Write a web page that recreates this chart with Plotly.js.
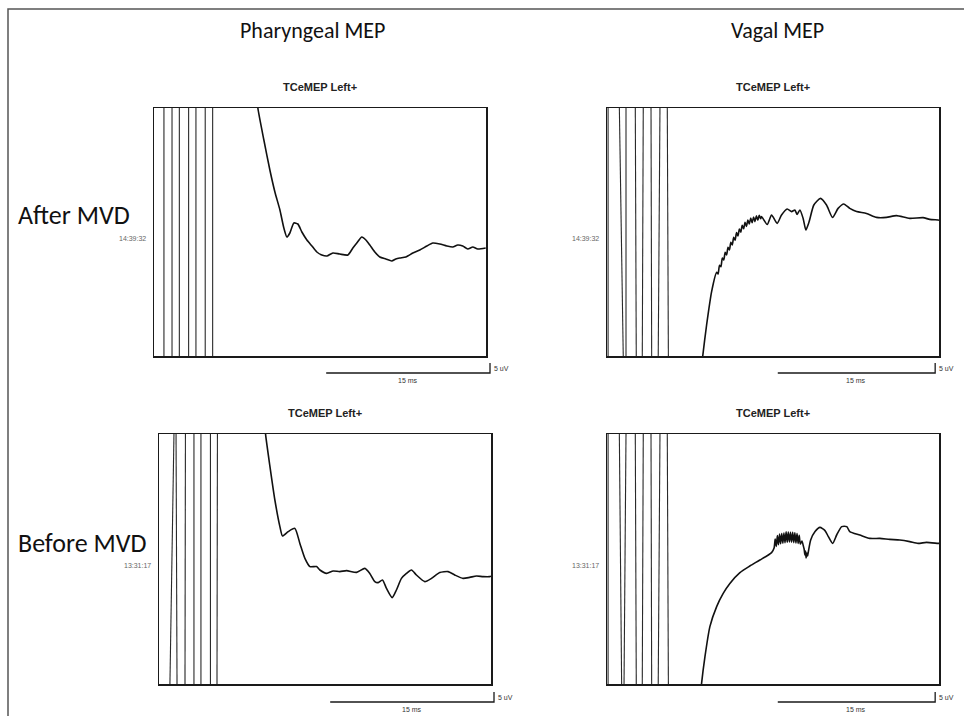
<!DOCTYPE html>
<html><head><meta charset="utf-8">
<script src="https://cdn.plot.ly/plotly-3.0.1.min.js"></script>
<style>html,body{margin:0;padding:0;background:#fff;}#chart{width:964px;height:716px;}</style>
</head><body><div id="chart"></div>
<script>
// ---------- labels ----------
const columnTitles = ["Pharyngeal MEP", "Vagal MEP"];
const rowTitles = ["After MVD", "Before MVD"];
const panelTitle = "TCeMEP Left+";
const stampAfter = "14:39:32";
const stampBefore = "13:31:17";
const scaleMs = 15;      // horizontal calibration bar, ms
const scaleUv = 5;       // vertical calibration bar, uV
const scaleMsLabel = "15 ms";
const scaleUvLabel = "5 uV";
const railUv = 62.5;     // saturated stimulus artifact amplitude (off-scale)

// ---------- Pharyngeal MEP, after MVD ----------
const pharAfterT = [9.40,9.51,10.06,10.61,11.07,11.53,11.89,12.17,12.44,12.81,13.17,13.54,14.00,14.46,14.91,15.37,15.83,16.38,17.00,17.75,18.21,18.57,19.03,19.40,19.76,20.22,20.68,21.23,21.77,22.14,22.51,23.06,23.70,24.34,24.98,25.53,26.17,26.81,27.36,27.81,28.27,28.73,29.19,29.64,30.37];
const pharAfterV = [70,62,46,31,20,11,2,-2.5,-0.5,4.5,4,0,-4,-7,-10,-11.5,-12,-10.5,-11,-11.5,-8,-5.5,-2.5,-4,-6.5,-10,-12.5,-13.5,-14.5,-13.5,-13,-12.5,-10.5,-9,-7,-5.5,-6,-7,-7.5,-6.5,-7,-8.5,-7.5,-8.5,-8];
const pharAfterArtTop = [0.91,1.65,2.32,3.17,3.84,4.69,5.37];
const pharAfterArtBot = [0.91,1.65,2.32,3.17,3.84,4.69,5.37];

// ---------- Vagal MEP, after MVD ----------
const vagAfterT = [8.70,8.76,9.12,9.58,10.04,10.17,10.30,10.43,10.56,10.69,10.82,10.95,11.08,11.21,11.34,11.47,11.60,11.73,11.86,11.99,12.12,12.25,12.38,12.51,12.64,12.77,12.90,13.03,13.16,13.29,13.42,13.55,13.68,13.81,13.94,14.07,14.15,14.67,15.07,15.58,15.98,16.50,16.90,17.20,17.41,17.66,17.96,18.21,18.51,18.94,19.55,20.10,20.65,21.16,21.68,22.23,22.85,23.76,24.68,25.59,26.50,27.72,28.94,29.55,30.31,30.40];
const vagAfterV = [-66,-62.3,-46.5,-29.8,-20.2,-21.0,-16.6,-17.4,-13.0,-14.0,-10.2,-11.5,-7.7,-9.0,-5.2,-6.5,-2.7,-4.1,-0.3,-2.0,1.5,-0.1,3.4,1.6,4.8,2.8,6.0,4.0,7.0,4.6,7.5,5.2,8.1,5.9,8.4,6.6,7.7,3.8,8.5,4.3,8.5,11.5,10.2,11.0,8.8,11.0,6.8,1.0,5.2,13.5,16.8,13.5,7.3,11.8,14.0,11.8,10.2,9.3,7.3,7.3,8.2,6.8,7.2,6.3,6.0,5.9];
const vagAfterArtTop = [0.10,1.13,1.74,2.59,3.32,4.03,4.85,5.52];
const vagAfterArtBot = [0.10,1.49,1.74,2.68,3.23,4.09,4.69,5.62];

// ---------- Pharyngeal MEP, before MVD ----------
const pharBeforeT = [9.70,9.76,10.16,10.61,11.07,11.31,11.83,12.44,12.90,13.36,13.82,14.43,14.73,15.34,15.95,16.56,17.17,18.09,18.85,19.30,19.76,20.07,20.46,20.83,21.35,21.74,22.20,22.66,23.12,23.57,24.34,24.95,25.71,26.47,27.08,27.84,28.45,29.07,29.67,30.28,30.40];
const pharBeforeV = [68,62.3,46.2,29.5,16.2,11.5,13.7,15.3,7.8,0.3,-3.8,-3.8,-5.5,-7.2,-6,-6.3,-5.8,-6.7,-4.7,-7.2,-11.3,-11.8,-10.5,-14.7,-19.3,-15.5,-9.7,-7.2,-5.5,-8,-11.3,-9.7,-6.8,-6.3,-8,-9.7,-9.2,-8.5,-8.8,-8.8,-8.6];
const pharBeforeArtTop = [1.37,1.56,2.42,3.20,3.84,4.71,5.35];
const pharBeforeArtBot = [1.00,1.65,2.38,3.20,3.84,4.71,5.31];

// ---------- Vagal MEP, before MVD ----------
const vagBeforeT = [8.60,8.66,8.97,9.42,10.04,10.64,11.25,12.17,13.08,14.00,15.07,15.30,15.40,15.50,15.60,15.70,15.80,15.90,16.00,16.10,16.20,16.30,16.40,16.50,16.60,16.70,16.80,16.90,17.00,17.10,17.20,17.30,17.40,17.50,17.60,17.70,17.85,17.98,18.05,18.12,18.18,18.23,18.30,18.37,18.44,18.65,19.05,19.50,19.96,20.27,20.66,21.03,21.49,21.95,22.23,23.15,24.06,24.98,25.89,26.81,27.72,28.48,29.25,30.31,30.40];
const vagBeforeV = [-66,-62.2,-48.8,-33.8,-23.8,-17.2,-12.2,-6.8,-3.5,-0.5,3.2,5.5,10,6.3,11.7,7.1,12.5,7.6,12.7,7.9,13.0,8.1,13.6,8.4,13.5,8.5,13.4,8.4,13.3,8.2,13.1,8.0,12.7,7.8,11.8,7.5,9.0,6.5,5.0,2.0,4.0,0.5,3.0,1.5,3.7,9.5,13.7,15.8,14.2,11.2,7.8,12.0,16.2,16.2,13.7,12.0,10.3,10.3,9.8,9.5,8.7,7.8,8.3,7.8,7.8];
const vagBeforeArtTop = [0.10,1.13,1.74,2.59,3.32,4.03,4.85,5.52];
const vagBeforeArtBot = [0.10,1.34,1.56,2.68,3.23,4.09,4.69,5.62];

// ---------- layout geometry (pixels) ----------
const W = 964, H = 716;
const px = x => x / W, py = y => 1 - y / H;
const timeSpan = 30.4;          // ms across a panel
const boxW = 332;
const pxPerMs = boxW / timeSpan;
const pxPerUv = 2;

const panels = [
  {left:154, top:108, bottom:356, barEnd:490, barY:373, t:pharAfterT, v:pharAfterV, aT:pharAfterArtTop, aB:pharAfterArtBot, stamp:stampAfter},
  {left:607, top:108, bottom:356, barEnd:943, barY:373, t:vagAfterT, v:vagAfterV, aT:vagAfterArtTop, aB:vagAfterArtBot, stamp:stampAfter},
  {left:159, top:434, bottom:684, barEnd:494, barY:702, t:pharBeforeT, v:pharBeforeV, aT:pharBeforeArtTop, aB:pharBeforeArtBot, stamp:stampBefore},
  {left:607, top:434, bottom:684, barEnd:943, barY:702, t:vagBeforeT, v:vagBeforeV, aT:vagBeforeArtTop, aB:vagBeforeArtBot, stamp:stampBefore}
];

const traces = [];
const layout = {
  width: W, height: H, margin:{l:0,r:0,t:0,b:0},
  paper_bgcolor:'#fff', plot_bgcolor:'rgba(0,0,0,0)',
  showlegend:false, hovermode:false,
  annotations: [], shapes: []
};
const panelFont = 'Liberation Sans, Arial, sans-serif';
const bigFont = 'Carlito, Lato, "Open Sans", sans-serif';

function note(o) {
  layout.annotations.push(Object.assign({showarrow:false, xanchor:'center', yanchor:'middle'}, o));
}

panels.forEach((p, i) => {
  const n = i + 1, s = i + 5;
  const xk = n === 1 ? 'xaxis' : 'xaxis' + n, yk = n === 1 ? 'yaxis' : 'yaxis' + n;
  const xr = n === 1 ? 'x' : 'x' + n, yr = n === 1 ? 'y' : 'y' + n;
  const hPx = p.bottom - p.top;
  const yHalf = hPx / 2 / pxPerUv;
  const right = p.left + boxW;
  const axBase = {showline:true, mirror:true, linecolor:'#1a1a1a', linewidth:1.5, showticklabels:false,
                  ticks:'', showgrid:false, zeroline:false, fixedrange:true};
  layout[xk] = Object.assign({}, axBase, {domain:[px(p.left), px(right)], range:[0, timeSpan], anchor:yr});
  layout[yk] = Object.assign({}, axBase, {domain:[py(p.bottom), py(p.top)], range:[-yHalf, yHalf], anchor:xr});

  // stimulus artifact lines (saturated, clipped by the axes)
  const ax = [], ay = [];
  p.aT.forEach((tt, k) => { ax.push(p.aB[k], tt, null); ay.push(-railUv, railUv, null); });
  traces.push({type:'scatter', mode:'lines', x:ax, y:ay, xaxis:xr, yaxis:yr,
               line:{color:'#2a2a2a', width:1.1}, connectgaps:false});
  // evoked response
  traces.push({type:'scatter', mode:'lines', x:p.t, y:p.v, xaxis:xr, yaxis:yr,
               line:{color:'#111', width:1.6, shape:'spline', smoothing:0.6}});

  // calibration bar subplot
  const sxk = 'xaxis' + s, syk = 'yaxis' + s, sxr = 'x' + s, syr = 'y' + s;
  const leftPad = 200, rightPad = 30, topPad = 16, botPad = 4;
  layout[sxk] = {visible:false, domain:[px(p.barEnd - leftPad), px(p.barEnd + rightPad)],
                 range:[-leftPad / pxPerMs, rightPad / pxPerMs], anchor:syr, fixedrange:true};
  layout[syk] = {visible:false, domain:[py(p.barY + botPad), py(p.barY - topPad)],
                 range:[-botPad / pxPerUv, topPad / pxPerUv], anchor:sxr, fixedrange:true};
  traces.push({type:'scatter', mode:'lines', x:[-scaleMs, 0, 0], y:[0, 0, scaleUv], xaxis:sxr, yaxis:syr,
               line:{color:'#1a1a1a', width:1.3}});
  note({xref:sxr, yref:syr, x:-scaleMs/2, y:0, yanchor:'top', yshift:-2,
        text:scaleMsLabel, font:{family:panelFont, size:7, color:'#333'}});
  note({xref:sxr, yref:syr, x:0, y:scaleUv/2, xanchor:'left', xshift:2,
        text:scaleUvLabel, font:{family:panelFont, size:7, color:'#333'}});

  // panel title and timestamp
  note({xref:'paper', yref:'paper', x:px(p.left + boxW/2), y:py(p.top - 21),
        text:'<b>' + panelTitle + '</b>', font:{family:panelFont, size:11, color:'#222'}});
  note({xref:'paper', yref:'paper', x:px(p.left - 6), xanchor:'right',
        y:py((p.top + p.bottom)/2 + 6),
        text:p.stamp, font:{family:panelFont, size:7, color:'#666'}});
});

// column and row headers
note({xref:'paper', yref:'paper', x:px(312), y:py(30),
  text:columnTitles[0], font:{family:bigFont, size:22, color:'#111'}});
note({xref:'paper', yref:'paper', x:px(777), y:py(30),
  text:columnTitles[1], font:{family:bigFont, size:22, color:'#111'}});
note({xref:'paper', yref:'paper', x:px(16), xanchor:'left', y:py(215),
  text:rowTitles[0], font:{family:bigFont, size:26, color:'#111'}});
note({xref:'paper', yref:'paper', x:px(16), xanchor:'left', y:py(543),
  text:rowTitles[1], font:{family:bigFont, size:26, color:'#111'}});

// outer figure frame
layout.shapes.push({type:'rect', xref:'paper', yref:'paper', x0:px(8), x1:1.05, y0:-0.05, y1:py(9),
  line:{color:'#555', width:1.5}, fillcolor:'rgba(0,0,0,0)', layer:'below'});

Plotly.newPlot('chart', traces, layout, {staticPlot:true, displayModeBar:false});
</script>
</body></html>
